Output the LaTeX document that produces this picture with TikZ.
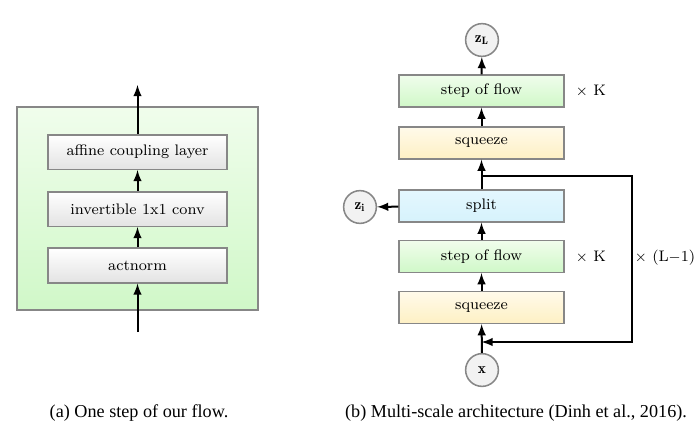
\documentclass[tikz,border=0pt]{standalone}
\usepackage{fontspec}
\newfontfamily\capfont{Liberation Serif}
\usetikzlibrary{arrows,positioning}

\definecolor{sqtop}{RGB}{255,250,234}
\definecolor{sqbot}{RGB}{254,240,196}
\definecolor{sptop}{RGB}{228,247,254}
\definecolor{spbot}{RGB}{214,242,252}
\definecolor{fltop}{RGB}{240,253,236}
\definecolor{flbot}{RGB}{208,248,200}
\definecolor{edge}{RGB}{135,135,135}

\tikzset{
  flowline/.style={-latex, line width=1.1pt},
  layerbox/.style={draw=edge, line width=0.85pt, top color=white, bottom color=gray!22,
    minimum width=98.5pt, minimum height=19pt, font=\fontsize{8.4}{10}\selectfont},
  ms/.style={draw=edge, line width=0.85pt, minimum width=90.5pt, minimum height=17.5pt,
    font=\fontsize{8.4}{10}\selectfont},
  flowbox/.style={ms, top color=fltop, bottom color=flbot},
  squeezebox/.style={ms, top color=sqtop, bottom color=sqbot},
  splitbox/.style={ms, top color=sptop, bottom color=spbot},
  var/.style={circle, draw=edge, line width=0.85pt, fill=gray!10, minimum size=18pt,
    inner sep=0pt, font=\fontsize{8.4}{10}\selectfont},
  capt/.style={font=\capfont\fontsize{10}{12}\selectfont}
}

\begin{document}
\begin{tikzpicture}[x=0.55pt, y=-0.55pt]
  \useasboundingbox (0,0) rectangle (700,435);

  % (a) one step of flow
  \node[draw=edge, line width=0.85pt, top color=fltop, bottom color=flbot,
    minimum width=132.5pt, minimum height=111.5pt] (frame) at (137.5,208.5) {};
  \node[layerbox] (actnorm) at (137.5,265.5) {actnorm};
  \node[layerbox] (conv) at (137.5,209) {invertible 1x1 conv};
  \node[layerbox] (coupling) at (137.5,152) {affine coupling layer};
  \coordinate (in) at (137.5,332);
  \coordinate (out) at (137.5,85);
  \draw[flowline] (in) -- (actnorm);
  \draw[flowline] (actnorm) -- (conv);
  \draw[flowline] (conv) -- (coupling);
  \draw[flowline] (coupling) -- (out);

  % (b) multi-scale architecture
  \node[var] (x) at (482,370) {$\mathbf{x}$};
  \node[squeezebox] (sqA) at (481.5,307.5) {squeeze};
  \node[flowbox] (flowA) at (481.5,256.5) {step of flow};
  \node[splitbox] (split) at (481.5,206) {split};
  \node[var] (zi) at (360,207) {$\mathbf{z_i}$};
  \node[squeezebox] (sqB) at (481.5,143) {squeeze};
  \node[flowbox] (flowB) at (481.5,91) {step of flow};
  \node[var] (zL) at (482,40) {$\mathbf{z_L}$};

  \node[font=\fontsize{8.4}{10}\selectfont] (kA) at (591,257) {$\times$ K};
  \node[font=\fontsize{8.4}{10}\selectfont] (kB) at (591,91) {$\times$ K};
  \node[font=\fontsize{8.4}{10}\selectfont] (rep) at (665,258) {$\times$ (L$-$1)};

  \coordinate (jt) at (481.5,176);
  \coordinate (jb) at (481.5,342);
  \draw[flowline] (x) -- (sqA);
  \draw[flowline] (sqA) -- (flowA);
  \draw[flowline] (flowA) -- (split);
  \draw[flowline] (split) -- (zi);
  \draw[flowline] (split) -- (sqB);
  \draw[flowline] (sqB) -- (flowB);
  \draw[flowline] (flowB) -- (zL);
  \draw[flowline] (jt) -- (632,176) |- (jb);

  % captions
  \node[capt] (captA) at (139,413) {(a) One step of our flow.};
  \node[capt] (captB) at (516,413) {(b) Multi-scale architecture (Dinh et al., 2016).};
\end{tikzpicture}
\end{document}
